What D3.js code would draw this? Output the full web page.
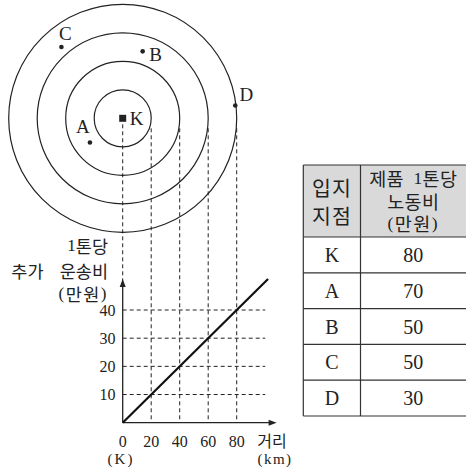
<!DOCTYPE html>
<html><head><meta charset="utf-8">
<script src="https://cdn.jsdelivr.net/npm/d3@7"></script>
<style>
html,body{margin:0;padding:0;background:#fff;}
svg text{fill:#222;}
</style></head>
<body>
<svg id="c" width="466" height="474"></svg>
<script>
// ---- data ----
const ringDistances = [20, 40, 60, 80];            // km
const placeNames = ["K", "A", "B", "C", "D"];
const placeDX = [0, -23, 14, -43, 79];              // km east of K
const placeDY = [0, -17, 47, 50, 9];                // km north of K
const laborCost = [80, 70, 50, 50, 30];             // 만원 per ton
const xTicks = [0, 20, 40, 60, 80];
const yTicks = [10, 20, 30, 40];
const costLineX = [0, 102];                         // km
const costLineY = [0, 51];                          // 만원
const tableHeader1 = ["입지", "지점"];
const tableHeader2 = ["제품 1톤당", "노동비", "(만원)"];

const svg = d3.select("#c");
const serif = "'Liberation Serif','DejaVu Serif',serif";
const kf = "'Noto Sans CJK KR','Noto Sans CJK SC',sans-serif";
const ink = "#222";

const x = d3.scaleLinear().domain([0, 80]).range([122.7, 236.7]);
const y = d3.scaleLinear().domain([0, 40]).range([422.7, 310]);
const r = d3.scaleLinear().domain([0, 80]).range([0, x(80) - x(0)]);
const cx = x(0), cy = 118.3;

// mixed text helper: digits/latin in serif, hangul in CJK font
function mixed(sel, str, size, ksize) {
  const parts = str.match(/[\uAC00-\uD7A3]+|[^\uAC00-\uD7A3]+/g) || [];
  parts.forEach(p => {
    const isK = /[\uAC00-\uD7A3]/.test(p);
    sel.append("tspan").attr("font-family", isK ? kf : serif)
      .attr("font-size", isK ? ksize : size).text(p);
  });
  return sel;
}

// ---- rings ----
svg.selectAll("circle.ring").data(ringDistances).join("circle")
  .attr("class", "ring").attr("cx", cx).attr("cy", cy).attr("r", d => r(d))
  .attr("fill", "none").attr("stroke", ink).attr("stroke-width", 1.2);

// ---- vertical dashed projection lines ----
svg.selectAll("line.vproj").data(ringDistances).join("line")
  .attr("x1", d => x(d)).attr("x2", d => x(d))
  .attr("y1", cy + 10).attr("y2", y(0))
  .attr("stroke", ink).attr("stroke-width", 1).attr("stroke-dasharray", "4,3");
svg.append("line").attr("x1", cx).attr("x2", cx).attr("y1", cy + 6).attr("y2", y(50))
  .attr("stroke", ink).attr("stroke-width", 1).attr("stroke-dasharray", "4,3");

// ---- horizontal dashed grid ----
svg.selectAll("line.hgrid").data(yTicks).join("line")
  .attr("x1", x(0)).attr("x2", x(100)).attr("y1", d => y(d)).attr("y2", d => y(d))
  .attr("stroke", ink).attr("stroke-width", 1).attr("stroke-dasharray", "4,3");

// ---- places ----
const places = placeNames.map((n, i) => ({ name: n, px: cx + r(placeDX[i]), py: cy - r(placeDY[i]) }));
const labelOff = { K: [14, 0], A: [-7, -16], B: [13, 3], C: [4, -14], D: [11, -11] };
places.forEach(p => {
  if (p.name === "K") {
    svg.append("rect").attr("x", p.px - 3.5).attr("y", p.py - 3.5).attr("width", 7).attr("height", 7).attr("fill", ink);
  } else {
    svg.append("circle").attr("cx", p.px).attr("cy", p.py).attr("r", 2.3).attr("fill", ink);
  }
  const o = labelOff[p.name];
  svg.append("text").attr("x", p.px + o[0]).attr("y", p.py + o[1])
    .attr("text-anchor", "middle").attr("dominant-baseline", "central")
    .attr("font-family", serif).attr("font-size", 19).text(p.name);
});

// ---- axes ----
svg.append("line").attr("x1", x(0)).attr("x2", x(0)).attr("y1", y(0)).attr("y2", y(49.5))
  .attr("stroke", ink).attr("stroke-width", 1.3);
svg.append("path").attr("d", `M${x(0)},${y(51)} l-3,8 l6,0 z`).attr("fill", ink);
svg.append("line").attr("x1", x(0)).attr("x2", x(106)).attr("y1", y(0)).attr("y2", y(0))
  .attr("stroke", ink).attr("stroke-width", 1.3);
svg.append("path").attr("d", `M${x(108)},${y(0)} l-8,-3 l0,6 z`).attr("fill", ink);

// cost line
svg.append("line").attr("x1", x(costLineX[0])).attr("y1", y(costLineY[0]))
  .attr("x2", x(costLineX[1])).attr("y2", y(costLineY[1]))
  .attr("stroke", "#111").attr("stroke-width", 2.2);

// tick labels
svg.selectAll("text.xt").data(xTicks).join("text")
  .attr("x", d => x(d)).attr("y", 441.7).attr("text-anchor", "middle").attr("dominant-baseline", "central")
  .attr("font-family", serif).attr("font-size", 16).text(d => d);
svg.selectAll("text.yt").data(yTicks).join("text")
  .attr("x", 115.5).attr("y", d => y(d)).attr("text-anchor", "end").attr("dominant-baseline", "central")
  .attr("font-family", serif).attr("font-size", 16).text(d => d);

svg.append("text").attr("x", 272).attr("y", 440).attr("text-anchor", "middle").attr("dominant-baseline", "central")
  .attr("font-family", kf).attr("font-size", 16).text("거리");
svg.append("text").attr("x", 121).attr("y", 458.5).attr("text-anchor", "middle").attr("dominant-baseline", "central")
  .attr("font-family", serif).attr("font-size", 15).attr("letter-spacing", 2).text("(K)");
svg.append("text").attr("x", 275).attr("y", 458.5).attr("text-anchor", "middle").attr("dominant-baseline", "central")
  .attr("font-family", serif).attr("font-size", 15).attr("letter-spacing", 1.5).text("(km)");

// y axis title
mixed(svg.append("text").attr("x", 108).attr("y", 245).attr("text-anchor", "end").attr("dominant-baseline", "central"), "1톤당", 17, 17.5);
mixed(svg.append("text").attr("x", 43.5).attr("y", 270).attr("text-anchor", "end").attr("dominant-baseline", "central"), "추가", 17, 17.5);
mixed(svg.append("text").attr("x", 108).attr("y", 270).attr("text-anchor", "end").attr("dominant-baseline", "central"), "운송비", 17, 17.5);
mixed(svg.append("text").attr("x", 108).attr("y", 293).attr("text-anchor", "end").attr("dominant-baseline", "central")
  .attr("letter-spacing", 1.5), "(만원)", 17, 17.5);

// ---- table ----
const tL = 303.3, tM = 360.5, tR = 467, tT = 165, tH = 237, tB = 416;
const rowH = (tB - tH) / placeNames.length;
svg.append("rect").attr("x", tL).attr("y", tT).attr("width", tR - tL).attr("height", tH - tT).attr("fill", "#d9d9d9");
const tg = svg.append("g").attr("stroke", "#333").attr("stroke-width", 1.2);
tg.append("line").attr("x1", tL).attr("x2", tR).attr("y1", tT).attr("y2", tT);
tg.append("line").attr("x1", tL).attr("x2", tR).attr("y1", tB).attr("y2", tB);
tg.append("line").attr("x1", tL).attr("x2", tL).attr("y1", tT).attr("y2", tB);
tg.append("line").attr("x1", tM).attr("x2", tM).attr("y1", tT).attr("y2", tB);
tg.selectAll("line.row").data(d3.range(placeNames.length)).join("line")
  .attr("x1", tL).attr("x2", tR).attr("y1", i => tH + i * rowH).attr("y2", i => tH + i * rowH);

tableHeader1.forEach((t, i) => {
  svg.append("text").attr("x", (tL + tM) / 2).attr("y", 187 + i * 28).attr("text-anchor", "middle")
    .attr("dominant-baseline", "central").attr("font-family", kf).attr("font-size", 20.5)
    .attr("letter-spacing", 1).text(t);
});
tableHeader2.forEach((t, i) => {
  const te = svg.append("text").attr("x", (tM + 466) / 2).attr("y", 178 + i * 22.5).attr("text-anchor", "middle")
    .attr("dominant-baseline", "central").attr("word-spacing", 5).attr("letter-spacing", t.startsWith("(") ? 1.5 : 0.3);
  mixed(te, t, 17.5, 18.5);
});
placeNames.forEach((n, i) => {
  const yy = tH + (i + 0.5) * rowH;
  svg.append("text").attr("x", (tL + tM) / 2).attr("y", yy).attr("text-anchor", "middle")
    .attr("dominant-baseline", "central").attr("font-family", serif).attr("font-size", 20).text(n);
  svg.append("text").attr("x", (tM + 466) / 2).attr("y", yy).attr("text-anchor", "middle")
    .attr("dominant-baseline", "central").attr("font-family", serif).attr("font-size", 20).text(laborCost[i]);
});
</script>
</body></html>
